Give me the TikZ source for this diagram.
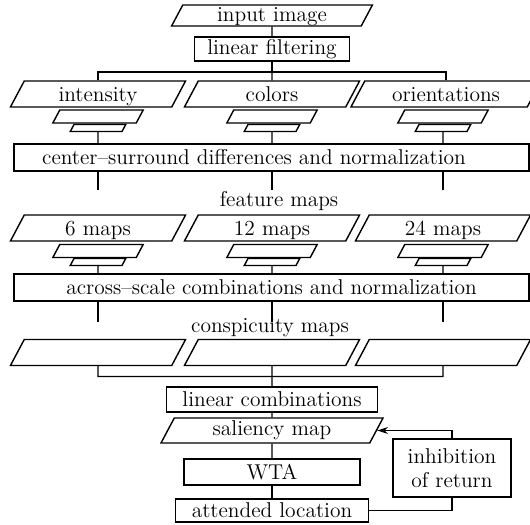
\documentclass[tikz,border=0pt]{standalone}
\usetikzlibrary{shapes.geometric,arrows.meta}

\tikzset{
    para/.style={draw,trapezium,trapezium left angle=62,trapezium right angle=118,
        inner sep=0pt,align=center},
    map/.style={para,text width=2.95cm,text height=11.4pt,text depth=3.4pt},
    submap/.style={para,text width=1.53cm,text height=7.4pt,text depth=0pt},
    subsubmap/.style={para,text width=0.96cm,text height=4pt,text depth=0pt},
    blk/.style={draw,rectangle,inner sep=0pt},
}

\begin{document}
\begin{tikzpicture}[x=0.02cm,y=-0.02cm,line width=0.8pt,
    font=\fontsize{12.2}{14}\selectfont]
    \useasboundingbox (0,0) rectangle (530,524);
    % input and filtering
    \node[para,text width=3.57cm,text height=9.15pt,text depth=2.8pt] at (272,15.5) (inp) {input image};
    \node[blk,minimum width=3.1cm,minimum height=0.48cm] at (272,49) (filt) {linear filtering};
    \coordinate (b1) at (272,72);
    % channels
    \node[map] at (98,94) (int) {intensity};
    \node[map] at (272,94) (col) {colors};
    \node[map,text width=3.25cm] at (446,94) (ori) {orientations};
    \node[submap] at (98,116.5) (int2) {};
    \node[submap] at (272,116.5) (col2) {};
    \node[submap] at (443,116.5) (ori2) {};
    \node[subsubmap] at (98,128) (int3) {};
    \node[subsubmap] at (272,128) (col3) {};
    \node[subsubmap] at (443,128) (ori3) {};
    \node[blk,minimum width=10.3cm,minimum height=0.54cm] at (271.5,157.5) (csd) {center\textendash surround differences and normalization\hspace*{0.7cm}};
    \coordinate (fa) at (98,190);
    \coordinate (fb) at (272,190);
    \coordinate (fc) at (443,190);
    % feature maps
    \node at (279,201) (feat) {feature maps};
    \node[map] at (98,228) (fm6) {6 maps};
    \node[map] at (272,228) (fm12) {12 maps};
    \node[map] at (443,228) (fm24) {24 maps};
    \node[submap] at (98,251) (fm62) {};
    \node[submap] at (272,251) (fm122) {};
    \node[submap] at (443,251) (fm242) {};
    \node[subsubmap] at (98,262) (fm63) {};
    \node[subsubmap] at (272,262) (fm123) {};
    \node[subsubmap] at (443,262) (fm243) {};
    \node[blk,minimum width=10.3cm,minimum height=0.54cm] at (271.5,287.5) (asc) {across\textendash scale combinations and normalization};
    \coordinate (ca) at (98,322);
    \coordinate (cb) at (272,322);
    \coordinate (cc) at (443,322);
    % conspicuity maps
    \node at (270,328) (consp) {conspicuity maps};
    \node[map] at (98,352.5) (cm1) {};
    \node[map] at (272,352.5) (cm2) {};
    \node[map] at (443,352.5) (cm3) {};
    \coordinate (b2) at (272,376.5);
    % saliency
    \node[blk,minimum width=4.22cm,minimum height=0.5cm] at (272,399.5) (lin) {linear combinations};
    \node[para,text width=3.91cm,text height=10.2pt,text depth=4pt] at (272,430.5) (sal) {saliency map};
    \node[blk,minimum width=3.52cm,minimum height=0.52cm] at (272,472) (wta) {WTA};
    \node[blk,minimum width=3.86cm,minimum height=0.46cm] at (272,510.5) (att) {attended location};
    \node[blk,minimum width=2.36cm,minimum height=1.16cm,align=center] at (452,468) (inh) {inhibition\\of return};
    % connectors
    \draw (inp) -- (filt);
    \draw (filt) -- (b1);
    \draw (int.north) -- (int.north |- b1) -- (ori.north |- b1) -- (ori.north);
    \draw (col) -- (b1);
    \draw (int3) -- (csd.north -| int3);
    \draw (col3) -- (csd.north -| col3);
    \draw (ori3) -- (csd.north -| ori3);
    \draw (csd.south -| fa) -- (fa);
    \draw (csd.south -| fb) -- (fb);
    \draw (csd.south -| fc) -- (fc);
    \draw (fm63) -- (asc.north -| fm63);
    \draw (fm123) -- (asc.north -| fm123);
    \draw (fm243) -- (asc.north -| fm243);
    \draw (asc.south -| ca) -- (ca);
    \draw (asc.south -| cb) -- (cb);
    \draw (asc.south -| cc) -- (cc);
    \draw (cm1) -- (cm1 |- b2) -- (cm3 |- b2) -- (cm3);
    \draw (cm2) -- (lin);
    \draw (lin) -- (sal);
    \draw (sal) -- (wta);
    \draw (wta) -- (att);
    \draw (att.east) -| (inh.south);
    \draw[-{Stealth[length=2.2mm,width=1.4mm]}] (inh.north) |- (sal.east);
\end{tikzpicture}
\end{document}
